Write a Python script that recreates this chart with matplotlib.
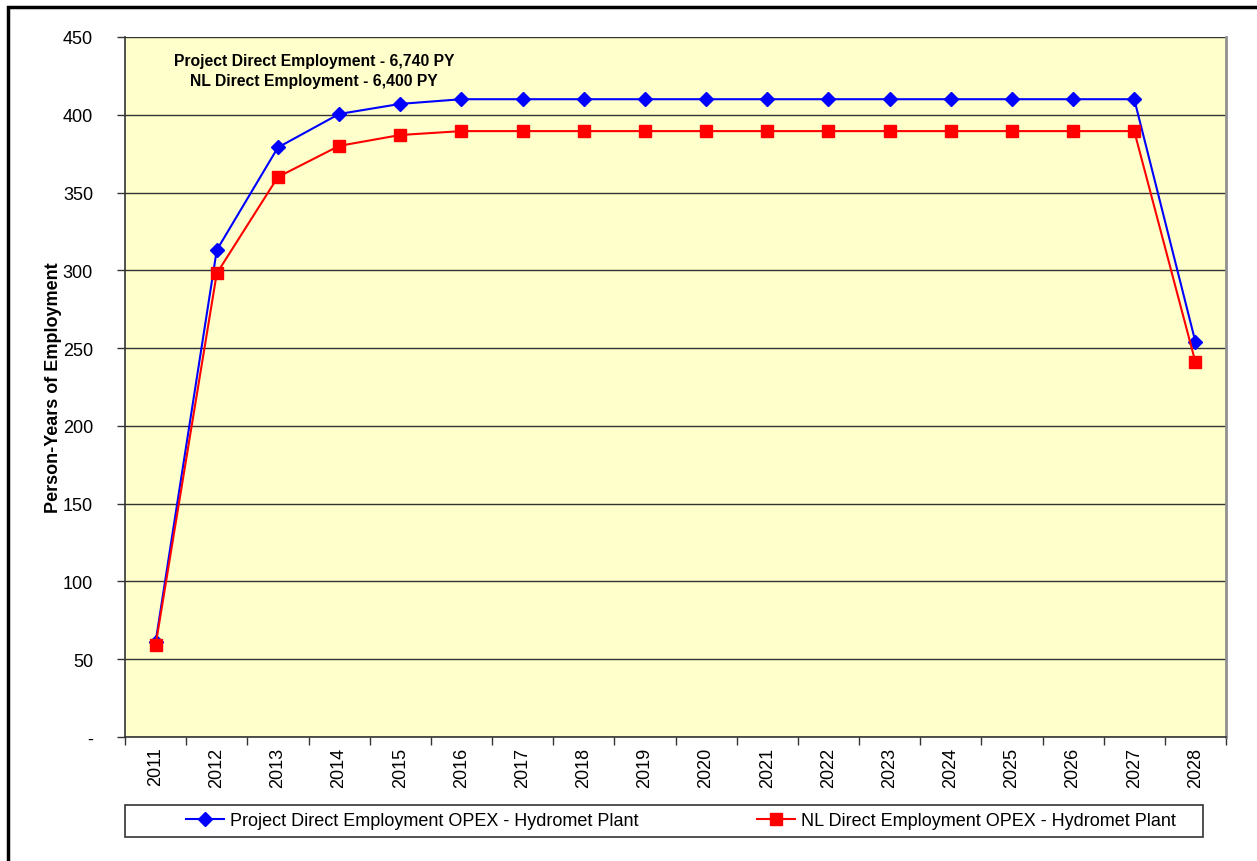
import matplotlib
matplotlib.use("Agg")
import matplotlib.pyplot as plt
from matplotlib.patches import Rectangle
import numpy as np

plt.rcParams['font.family'] = ['Liberation Sans', 'DejaVu Sans']

# data
years = [str(y) for y in range(2011, 2029)]
project_opex = [61, 313, 379, 400.5, 407, 410, 410, 410, 410, 410, 410, 410,
                410, 410, 410, 410, 410, 254]
nl_opex = [59, 298, 360, 380, 387, 389.5, 389.5, 389.5, 389.5, 389.5, 389.5,
           389.5, 389.5, 389.5, 389.5, 389.5, 389.5, 241]
y_ticks = [0, 50, 100, 150, 200, 250, 300, 350, 400, 450]
y_labels = ['-'] + [str(v) for v in y_ticks[1:]]

W, H = 1257, 862
fig = plt.figure(figsize=(W / 100, H / 100), dpi=100)
ax = fig.add_axes([125 / W, 1 - 738 / H, (1226 - 125) / W, (738 - 38) / H])
ax.set_facecolor('#FFFFCC')

x = np.arange(len(years))
ax.plot(x, project_opex, color='#0000FF', lw=1.5, marker='D', ms=7,
        label='Project Direct Employment OPEX - Hydromet Plant', zorder=3)
ax.plot(x, nl_opex, color='#FF0000', lw=1.5, marker='s', ms=8,
        label='NL Direct Employment OPEX - Hydromet Plant', zorder=3)

ax.set_xlim(-0.5, len(years) - 0.5)
ax.set_ylim(0, 450)
ax.set_yticks(y_ticks)
ax.set_yticklabels(y_labels, fontsize=13)
ax.yaxis.grid(True, color='#333333', lw=1)
ax.set_axisbelow(True)

ax.set_xticks(x)
ax.set_xticklabels(years, rotation=90, fontsize=13)
ax.set_xticks(np.arange(-0.5, len(years)), minor=True)
ax.tick_params(axis='x', which='major', length=0, pad=7)
ax.tick_params(axis='x', which='minor', length=6, width=1, color='#333333')
ax.tick_params(axis='y', length=6, width=1, color='#333333', pad=17)

for s in ['left', 'bottom']:
    ax.spines[s].set_color('#333333')
    ax.spines[s].set_linewidth(1.2)
ax.spines['top'].set_visible(False)
ax.spines['right'].set_color('#909090')
ax.spines['right'].set_linewidth(2)

ax.set_ylabel('Person-Years of Employment', fontsize=13, fontweight='bold')
ax.yaxis.set_label_coords((62 - 125) / 1101, 0.5)

ax.text(0.172, 0.952,
        'Project Direct Employment - 6,740 PY\nNL Direct Employment - 6,400 PY',
        transform=ax.transAxes, ha='center', va='center', fontsize=11.3,
        fontweight='bold', linespacing=1.45)

# legend box and outer frame
fig.patches.append(Rectangle((125 / W, 1 - 838 / H), (1203 - 125) / W, 32 / H,
                             transform=fig.transFigure, fill=False,
                             edgecolor='#333333', lw=1.2))
fig.patches.append(Rectangle((8 / W, -0.05), 1.2, 1 - 8 / H + 0.05,
                             transform=fig.transFigure, fill=False,
                             edgecolor='black', lw=2.5))
fig.legend(loc='center', bbox_to_anchor=(681 / W, 1 - 822 / H), ncol=2,
           frameon=False, fontsize=13, columnspacing=6.6, handlelength=2.1,
           handletextpad=0.3)

fig.savefig('out.png', dpi=100)
